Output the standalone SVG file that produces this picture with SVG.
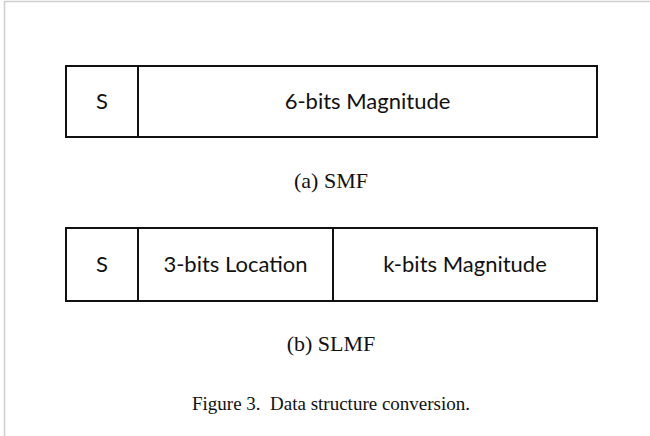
<svg xmlns="http://www.w3.org/2000/svg" width="650" height="436" viewBox="0 0 650 436">
<style>
.cell{fill:#fff;stroke:#111;stroke-width:2}
.lbl{font-family:Lato,"Open Sans","Liberation Sans",sans-serif;font-size:22px;fill:#111;text-anchor:middle}
.cap{font-family:"Liberation Serif","Times New Roman",serif;fill:#111;text-anchor:middle}
</style>
<rect x="0" y="0" width="650" height="436" fill="#fff"/>
<path d="M4.5,436 V1.5 H650" fill="none" stroke="#cfcfcf" stroke-width="1.5"/>
<g id="smf">
  <g id="smf-s"><rect class="cell" x="66" y="66" width="72" height="71"/><text class="lbl" x="102" y="109">S</text></g>
  <g id="smf-mag"><rect class="cell" x="138" y="66" width="459" height="71"/><text class="lbl" x="367.5" y="109">6-bits Magnitude</text></g>
</g>
<text class="cap" x="331" y="188" font-size="22">(a) SMF</text>
<g id="slmf">
  <g id="slmf-s"><rect class="cell" x="66" y="228" width="72" height="73"/><text class="lbl" x="102" y="272">S</text></g>
  <g id="slmf-loc"><rect class="cell" x="138" y="228" width="195" height="73"/><text class="lbl" x="235.5" y="272">3-bits Location</text></g>
  <g id="slmf-mag"><rect class="cell" x="333" y="228" width="264" height="73"/><text class="lbl" x="465" y="272">k-bits Magnitude</text></g>
</g>
<text class="cap" x="331" y="351" font-size="22">(b) SLMF</text>
<g id="connectors"></g>
<text class="cap" x="331" y="410" font-size="19" xml:space="preserve">Figure 3.  Data structure conversion.</text>
</svg>
